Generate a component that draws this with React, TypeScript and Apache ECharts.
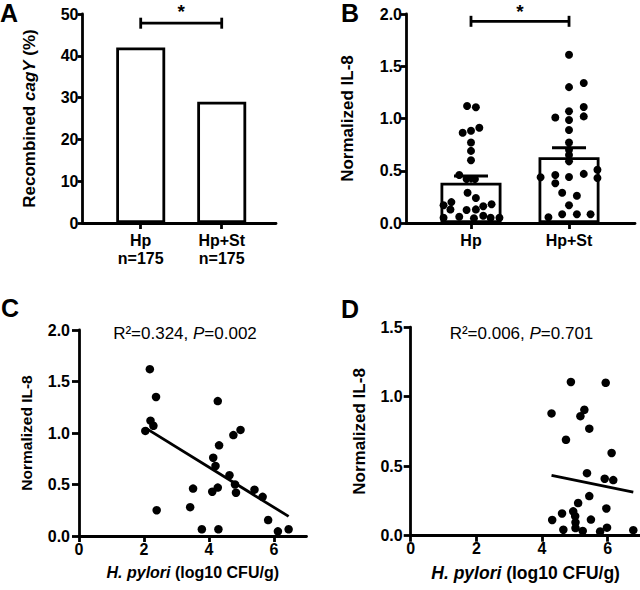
import React, { useEffect, useRef } from "react";
import * as echarts from "echarts";

// ---------- Data ----------
// Panel A
const groupsA = ["Hp", "Hp+St"];
const countsA = ["n=175", "n=175"];
const recombinedA = [42, 29];
const sigA = [0, 1, 47.8];

// Panel B
const groupsB = ["Hp", "Hp+St"];
const meanB = [0.386, 0.629];
const semB = [0.064, 0.091];
const sigB = [0, 1, 1.93];
// [jitter offset within category, normalized IL-8]
const dotsHp = [
  [-0.04, 1.12], [0.05, 1.107], [-0.085, 0.864], [0, 0.883], [0.085, 0.912],
  [0, 0.77], [0, 0.69], [0, 0.6], [-0.12, 0.46], [-0.045, 0.42], [0.04, 0.42],
  [-0.035, 0.29], [0.05, 0.24], [-0.2, 0.2], [-0.28, 0.17], [-0.21, 0.13],
  [0.125, 0.16], [0.21, 0.18], [-0.045, 0.124], [0.05, 0.13], [-0.28, 0.05],
  [-0.12, 0.06], [0.03, 0.045], [0.125, 0.07], [0.2, 0.05], [0.29, 0.05],
];
const dotsHpSt = [
  [0, 1.61], [0, 1.3], [0, 1.07], [0, 0.985], [0, 0.89], [0, 0.77], [0, 0.7],
  [0, 0.65], [0, 0.59], [-0.14, 1.01], [0.15, 1.34], [0.15, 1.11], [0.15, 1.02],
  [-0.29, 0.437], [-0.14, 0.46], [-0.14, 0.38], [0, 0.44], [0.15, 0.47],
  [0.29, 0.51], [0.29, 0.43], [-0.07, 0.29], [0.08, 0.26], [0, 0.17],
  [-0.21, 0.055], [-0.07, 0.083], [0.08, 0.083], [0.22, 0.083],
];

// Panel C
const scatterC = [
  [2.18, 1.62], [2.37, 1.35], [2.2, 1.12], [2.29, 1.07], [2.04, 1.02], [2.39, 0.25],
  [4.27, 1.31], [4.75, 0.98], [4.97, 1.03], [4.31, 0.88], [4.13, 0.76], [4.2, 0.68],
  [4.63, 0.59], [4.8, 0.5], [4.83, 0.42], [4.27, 0.47], [4.1, 0.43], [3.51, 0.46],
  [3.42, 0.28], [3.78, 0.065], [4.29, 0.065], [5.4, 0.45], [5.65, 0.38],
  [5.82, 0.155], [6.12, 0.045], [6.45, 0.065],
];
const fitC = [[2.04, 1.05], [6.45, 0.19]];
const statC = ["0.324", "0.002"];

// Panel D
const scatterD = [
  [4.88, 1.106], [5.94, 1.1], [4.29, 0.88], [5.29, 0.906], [5.17, 0.86], [5.44, 0.77],
  [4.73, 0.69], [6.12, 0.595], [5.37, 0.45], [5.91, 0.41], [6.17, 0.4], [5.44, 0.285],
  [5.1, 0.235], [5.96, 0.196], [4.95, 0.175], [4.61, 0.16], [5.01, 0.14], [4.31, 0.113],
  [5.49, 0.116], [5.02, 0.096], [4.65, 0.043], [5.02, 0.055], [5.24, 0.034],
  [5.77, 0.03], [5.98, 0.058], [6.78, 0.04],
];
const fitD = [[4.29, 0.434], [6.78, 0.314]];
const statD = ["0.006", "0.701"];

const ticksC = [0, 2, 4, 6];

// ---------- Styles ----------
const FONT = "'Liberation Sans', Arial, Helvetica, sans-serif";
const BLACK = "#000";
const AXW = 2.8;

function lineStyle() {
  return { color: BLACK, width: AXW };
}

function yAxis(
  gridIndex: number, min: number, max: number, interval: number, name: string,
  nameGap: number, nameSize: number, tickLen: number, margin: number,
  fmt: (v: number) => string
) {
  return {
    type: "value", gridIndex, min, max, interval,
    name, nameLocation: "middle", nameGap,
    nameTextStyle: {
      fontFamily: FONT, fontWeight: "bold", fontSize: nameSize, color: BLACK,
      rich: { i: { fontFamily: FONT, fontWeight: "bold", fontStyle: "italic", fontSize: nameSize, color: BLACK } },
    },
    axisLine: { show: true, onZero: false, lineStyle: lineStyle() },
    axisTick: { show: true, length: tickLen, lineStyle: lineStyle() },
    axisLabel: { margin, fontFamily: FONT, fontWeight: "bold", fontSize: 16, color: BLACK, formatter: fmt },
    splitLine: { show: false },
  };
}

function catXAxis(gridIndex: number, min: number, max: number, labels: string[]) {
  return {
    type: "value", gridIndex, min, max,
    axisLine: { show: true, onZero: false, lineStyle: lineStyle() },
    axisTick: { show: true, length: 6, customValues: [0, 1], lineStyle: lineStyle() },
    axisLabel: {
      customValues: [0, 1], margin: 8, lineHeight: 18,
      fontFamily: FONT, fontWeight: "bold", fontSize: 16, color: BLACK,
      formatter: (v: number) => labels[Math.round(v)] ?? "",
    },
    splitLine: { show: false },
  };
}

function numXAxis(gridIndex: number, nameSize: number) {
  return {
    type: "value", gridIndex, min: 0, max: 7,
    name: "{i|H. pylori} (log10 CFU/g)", nameLocation: "middle", nameGap: 28,
    nameTextStyle: {
      fontFamily: FONT, fontWeight: "bold", fontSize: nameSize, color: BLACK,
      rich: { i: { fontFamily: FONT, fontWeight: "bold", fontStyle: "italic", fontSize: nameSize, color: BLACK } },
    },
    axisLine: { show: true, onZero: false, lineStyle: lineStyle() },
    axisTick: { show: true, length: 6, customValues: ticksC, lineStyle: lineStyle() },
    axisLabel: {
      customValues: ticksC, margin: 5,
      fontFamily: FONT, fontWeight: "bold", fontSize: 16, color: BLACK,
    },
    splitLine: { show: false },
  };
}

function sigSeries(xi: number, data: number[], starOffset: number) {
  return {
    type: "custom", xAxisIndex: xi, yAxisIndex: xi, z: 10,
    encode: { x: [0, 1], y: 2 },
    data: [data],
    renderItem: (_p: any, api: any) => {
      const a = api.coord([api.value(0), api.value(2)]);
      const b = api.coord([api.value(1), api.value(2)]);
      const st = { stroke: BLACK, lineWidth: AXW };
      return {
        type: "group",
        children: [
          { type: "line", shape: { x1: a[0], y1: a[1], x2: b[0], y2: b[1] }, style: st },
          { type: "line", shape: { x1: a[0], y1: a[1] - 5.5, x2: a[0], y2: a[1] + 5.5 }, style: st },
          { type: "line", shape: { x1: b[0], y1: b[1] - 5.5, x2: b[0], y2: b[1] + 5.5 }, style: st },
          {
            type: "text", x: (a[0] + b[0]) / 2, y: a[1] - starOffset,
            style: { text: "*", fontFamily: FONT, fontWeight: "bold", fontSize: 19, fill: BLACK, align: "center", verticalAlign: "middle" },
          },
        ],
      };
    },
  };
}

function statText(x: number, y: number, s: string[]) {
  return {
    type: "text", x, y,
    style: {
      text: `{n|R²=${s[0]}, }{i|P}{n|=${s[1]}}`,
      align: "center", verticalAlign: "middle",
      rich: {
        n: { fontFamily: FONT, fontSize: 17, fill: BLACK },
        i: { fontFamily: FONT, fontSize: 17, fontStyle: "italic", fill: BLACK },
      },
    },
  };
}

function panelLetter(x: number, y: number, t: string) {
  return {
    type: "text", x, y,
    style: { text: t, fontFamily: FONT, fontWeight: "bold", fontSize: 25, fill: BLACK, align: "left", verticalAlign: "middle" },
  };
}

export default function App() {
  const ref = useRef<HTMLDivElement>(null);
  useEffect(() => {
    if (!ref.current) return;
    const chart = echarts.init(ref.current, null, { renderer: "svg" });
    const labelsA = groupsA.map((g, i) => `${g}\n${countsA[i]}`);
    const barStyle = { color: "#fff", borderColor: BLACK, borderWidth: AXW };
    const dotStyle = { color: BLACK, opacity: 1 };
    chart.setOption({
      animation: false,
      backgroundColor: "#fff",
      grid: [
        { left: 82.5, top: 14, width: 193.5, height: 209, outerBoundsMode: "none" },
        { left: 406, top: 14, width: 229, height: 209, outerBoundsMode: "none" },
        { left: 79, top: 330, width: 227.5, height: 206, outerBoundsMode: "none" },
        { left: 410.7, top: 327.2, width: 229.8, height: 208.5, outerBoundsMode: "none" },
      ],
      xAxis: [
        catXAxis(0, -0.7185, 1.67, labelsA),
        catXAxis(1, -0.663, 1.673, groupsB),
        numXAxis(2, 16),
        numXAxis(3, 17.5),
      ],
      yAxis: [
        yAxis(0, 0, 50, 10, "Recombined {i|cagY} (%)", 45, 17, 5, 4, (v) => String(v)),
        yAxis(1, 0, 2, 0.5, "Normalized IL-8", 50, 17, 5, 4, (v) => v.toFixed(1)),
        yAxis(2, 0, 2, 0.5, "Normalized IL-8", 45, 15.5, 7, 9, (v) => v.toFixed(1)),
        yAxis(3, 0, 1.5, 0.5, "Normalized IL-8", 43, 17, 7, 8, (v) => v.toFixed(1)),
      ],
      series: [
        {
          type: "bar", xAxisIndex: 0, yAxisIndex: 0, barWidth: 49,
          data: recombinedA.map((v, i) => [i, v]), itemStyle: barStyle,
        },
        sigSeries(0, sigA, 12),
        {
          type: "bar", xAxisIndex: 1, yAxisIndex: 1, barWidth: 61,
          data: meanB.map((v, i) => [i, v]), itemStyle: barStyle,
        },
        {
          type: "scatter", xAxisIndex: 1, yAxisIndex: 1, symbolSize: 8, z: 5,
          itemStyle: dotStyle,
          data: [
            ...dotsHp.map(([o, v]) => [0 + o, v]),
            ...dotsHpSt.map(([o, v]) => [1 + o, v]),
          ],
        },
        {
          type: "custom", xAxisIndex: 1, yAxisIndex: 1, z: 6,
          encode: { x: 0, y: [1, 2] },
          data: meanB.map((m, i) => [i, m, m + semB[i]]),
          renderItem: (_p: any, api: any) => {
            const lo = api.coord([api.value(0), api.value(1)]);
            const hi = api.coord([api.value(0), api.value(2)]);
            const st = { stroke: BLACK, lineWidth: AXW };
            return {
              type: "group",
              children: [
                { type: "line", shape: { x1: lo[0], y1: lo[1], x2: hi[0], y2: hi[1] }, style: st },
                { type: "line", shape: { x1: hi[0] - 17, y1: hi[1], x2: hi[0] + 17, y2: hi[1] }, style: st },
              ],
            };
          },
        },
        sigSeries(1, sigB, 9.5),
        {
          type: "scatter", xAxisIndex: 2, yAxisIndex: 2, symbolSize: 8.5,
          itemStyle: dotStyle, data: scatterC,
        },
        {
          type: "line", xAxisIndex: 2, yAxisIndex: 2, data: fitC, showSymbol: false,
          lineStyle: { color: BLACK, width: AXW },
        },
        {
          type: "scatter", xAxisIndex: 3, yAxisIndex: 3, symbolSize: 8.5,
          itemStyle: dotStyle, data: scatterD,
        },
        {
          type: "line", xAxisIndex: 3, yAxisIndex: 3, data: fitD, showSymbol: false,
          lineStyle: { color: BLACK, width: AXW },
        },
      ],
      graphic: [
        panelLetter(0, 13, "A"),
        panelLetter(341, 13, "B"),
        panelLetter(1, 307.5, "C"),
        panelLetter(341, 309, "D"),
        statText(185, 333.5, statC),
        statText(521.5, 333.5, statD),
      ],
    });
    return () => chart.dispose();
  }, []);
  return <div ref={ref} style={{ position: "absolute", left: 0, top: 0, width: 640, height: 590 }} />;
}
